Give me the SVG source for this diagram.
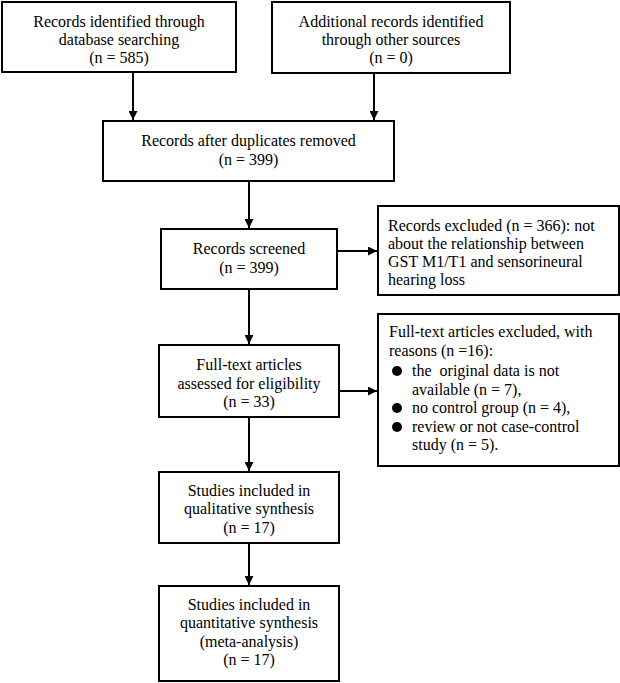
<svg xmlns="http://www.w3.org/2000/svg" width="620" height="683" viewBox="0 0 620 683">
<style>
.box{fill:#fff;stroke:#000;stroke-width:2}
.t{font-family:"Liberation Serif","Times New Roman",serif;font-size:16px;fill:#000}
.c{text-anchor:middle}
.ln{stroke:#000;stroke-width:2;fill:none}
</style>
<defs>
<marker id="ah" viewBox="0 0 10 10" refX="10" refY="5" markerWidth="4.5" markerHeight="4.5" orient="auto">
<path d="M0,0 L10,5 L0,10 z" fill="#000"/>
</marker>
</defs>
<rect width="620" height="683" fill="#fff"/>
<g id="connectors">
<line class="ln" x1="133" y1="72" x2="133" y2="120" marker-end="url(#ah)"/>
<line class="ln" x1="374" y1="73" x2="374" y2="120" marker-end="url(#ah)"/>
<line class="ln" x1="249" y1="181" x2="249" y2="228" marker-end="url(#ah)"/>
<line class="ln" x1="337" y1="251" x2="377" y2="251" marker-end="url(#ah)"/>
<line class="ln" x1="249" y1="289" x2="249" y2="344" marker-end="url(#ah)"/>
<line class="ln" x1="339" y1="391" x2="377" y2="391" marker-end="url(#ah)"/>
<line class="ln" x1="249" y1="417" x2="249" y2="471" marker-end="url(#ah)"/>
<line class="ln" x1="249" y1="543" x2="249" y2="585" marker-end="url(#ah)"/>
</g>
<g id="n1">
<rect class="box" x="2" y="2" width="234" height="70"/>
<text class="t c" x="119" y="27">Records identified through</text>
<text class="t c" x="119" y="45">database searching</text>
<text class="t c" x="119" y="63">(n = 585)</text>
</g>
<g id="n2">
<rect class="box" x="272" y="2" width="238" height="71"/>
<text class="t c" x="391" y="27">Additional records identified</text>
<text class="t c" x="391" y="45">through other sources</text>
<text class="t c" x="391" y="63">(n = 0)</text>
</g>
<g id="n3">
<rect class="box" x="103" y="121" width="291" height="60"/>
<text class="t c" x="248.5" y="146">Records after duplicates removed</text>
<text class="t c" x="248.5" y="165">(n = 399)</text>
</g>
<g id="n4">
<rect class="box" x="161" y="229" width="176" height="60"/>
<text class="t c" x="249" y="254">Records screened</text>
<text class="t c" x="249" y="273">(n = 399)</text>
</g>
<g id="n5">
<rect class="box" x="378" y="206" width="241" height="89"/>
<text class="t" x="388" y="231">Records excluded (n = 366): not</text>
<text class="t" x="388" y="249">about the relationship between</text>
<text class="t" x="388" y="267">GST M1/T1 and sensorineural</text>
<text class="t" x="388" y="285">hearing loss</text>
</g>
<g id="n6">
<rect class="box" x="159" y="345" width="180" height="72"/>
<text class="t c" x="249" y="370">Full-text articles</text>
<text class="t c" x="249" y="388.5">assessed for eligibility</text>
<text class="t c" x="249" y="407">(n = 33)</text>
</g>
<g id="n7">
<rect class="box" x="378" y="314" width="241" height="152"/>
<text class="t" x="389" y="337">Full-text articles excluded, with</text>
<text class="t" x="389" y="356">reasons (n =16):</text>
<circle cx="397" cy="371" r="5"/>
<text class="t" x="412" y="376" xml:space="preserve">the  original data is not</text>
<text class="t" x="412" y="395">available (n = 7),</text>
<circle cx="397" cy="408" r="5"/>
<text class="t" x="412" y="413">no control group (n = 4),</text>
<circle cx="397" cy="427" r="5"/>
<text class="t" x="412" y="432">review or not case-control</text>
<text class="t" x="412" y="450">study (n = 5).</text>
</g>
<g id="n8">
<rect class="box" x="159" y="472" width="180" height="71"/>
<text class="t c" x="249" y="496">Studies included in</text>
<text class="t c" x="249" y="514">qualitative synthesis</text>
<text class="t c" x="249" y="533">(n = 17)</text>
</g>
<g id="n9">
<rect class="box" x="159" y="586" width="180" height="95"/>
<text class="t c" x="249" y="610">Studies included in</text>
<text class="t c" x="249" y="628">quantitative synthesis</text>
<text class="t c" x="249" y="647">(meta-analysis)</text>
<text class="t c" x="249" y="665">(n = 17)</text>
</g>
</svg>
